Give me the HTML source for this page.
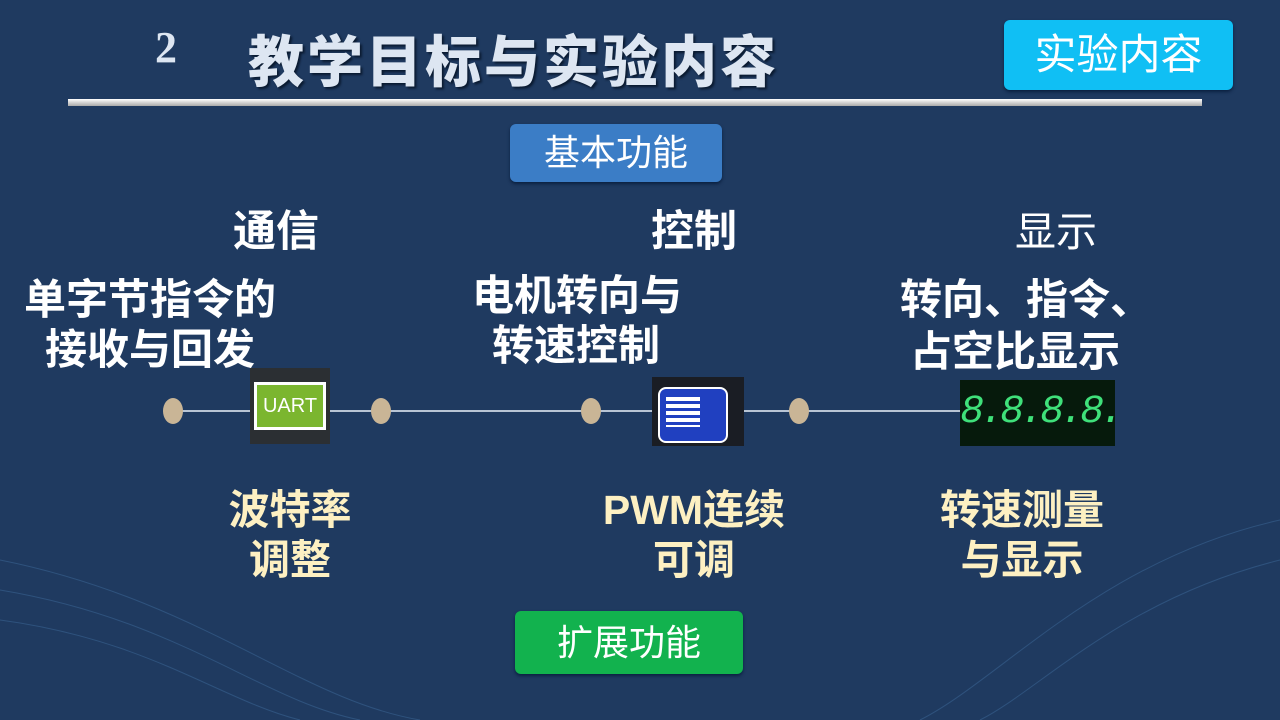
<!DOCTYPE html>
<html><head><meta charset="utf-8"><style>
body{margin:0;width:1280px;height:720px;background:#1f3a60;position:relative;overflow:hidden;font-family:"Liberation Sans","Noto Sans CJK SC",sans-serif}
.a{position:absolute;white-space:nowrap}
.w{color:#fff;font-size:42px;line-height:50px;font-weight:bold}
.c{color:#fdf0c2;font-size:41px;line-height:50px;font-weight:bold;text-align:center}
.dot{position:absolute;width:20px;height:26px;border-radius:50%;background:#c9b596;top:398px}
.btn{position:absolute;border-radius:6px;color:#fff;text-align:center;font-size:36px}
</style></head><body>
<svg class="a" style="left:0;top:0" width="1280" height="720"><g fill="none" stroke="#3e6a9a" stroke-width="1" opacity="0.5">
<path d="M0 560 C200 600 300 700 420 720"/><path d="M0 590 C180 620 260 700 360 720"/><path d="M0 620 C150 640 220 700 300 720"/>
<path d="M1280 520 C1100 560 1000 680 920 720"/><path d="M1280 560 C1120 600 1040 690 980 720"/></g></svg>
<div class="a" style="left:155px;top:22px;font-family:'Liberation Serif',serif;font-weight:bold;font-size:44px;color:#dde6f2">2</div>
<div class="a" style="left:248px;top:18px;font-size:56px;font-weight:900;color:#dde6f2;letter-spacing:3px;text-shadow:2px 2px 2px #0a1a30;font-family:'Noto Sans CJK SC',sans-serif">教学目标与实验内容</div>
<div class="btn" style="left:1004px;top:20px;width:229px;height:70px;line-height:70px;background:#10bff4;font-size:42px;box-shadow:0 2px 3px #0a2040">实验内容</div>
<div class="a" style="left:68px;top:99px;width:1134px;height:7px;background:linear-gradient(#fff,#aaa)"></div>
<div class="btn" style="left:510px;top:124px;width:212px;height:58px;line-height:58px;background:#3b7dc6;box-shadow:0 2px 3px #0a2040">基本功能</div>
<div class="btn" style="left:515px;top:611px;width:228px;height:63px;line-height:63px;background:#12b24e;box-shadow:0 2px 3px #0a2040">扩展功能</div>
<div class="a" style="left:173px;top:410px;width:787px;height:2px;background:#b8c4d4"></div>
<div class="dot" style="left:163px"></div><div class="dot" style="left:371px"></div><div class="dot" style="left:581px"></div><div class="dot" style="left:789px"></div>
<div class="a" style="left:250px;top:368px;width:80px;height:76px;background:#2b2f33">
<div style="position:absolute;left:4px;top:14px;width:72px;height:48px;background:#fff"></div>
<div style="position:absolute;left:7px;top:17px;width:66px;height:42px;background:#7bb62f;color:#fff;font-size:20px;line-height:42px;text-align:center">UART</div></div>
<div class="a" style="left:652px;top:377px;width:92px;height:69px;background:#1a1d24">
<div style="position:absolute;left:6px;top:10px;width:66px;height:52px;background:#2040c0;border:2px solid #fff;border-radius:8px"></div>
<div style="position:absolute;left:14px;top:20px;width:34px;height:30px;background:repeating-linear-gradient(#fff 0 4px,#2040c0 4px 7px)"></div></div>
<div class="a" style="left:960px;top:380px;width:155px;height:66px;background:#061a0c;color:#3fe07a;font-family:'Liberation Mono',monospace;font-size:40px;line-height:66px;text-align:center;font-style:italic;letter-spacing:-4px;overflow:hidden">8.8.8.8.</div>
<div class="a w" style="left:233px;top:207px;font-size:43px">通信</div>
<div class="a w" style="left:651px;top:207px;font-size:43px">控制</div>
<div class="a w" style="left:1015px;top:207px;font-size:41px;font-weight:normal">显示</div>
<div class="a w" style="left:24px;top:275px">单字节指令的</div>
<div class="a w" style="left:45px;top:325px">接收与回发</div>
<div class="a w" style="left:472px;top:271px">电机转向与</div>
<div class="a w" style="left:492px;top:321px">转速控制</div>
<div class="a w" style="left:900px;top:275px">转向、指令、</div>
<div class="a w" style="left:910px;top:327px">占空比显示</div>
<div class="a c" style="left:190px;top:485px;width:200px">波特率<br>调整</div>
<div class="a c" style="left:594px;top:485px;width:200px">PWM连续<br>可调</div>
<div class="a c" style="left:922px;top:485px;width:200px">转速测量<br>与显示</div>
</body></html>
